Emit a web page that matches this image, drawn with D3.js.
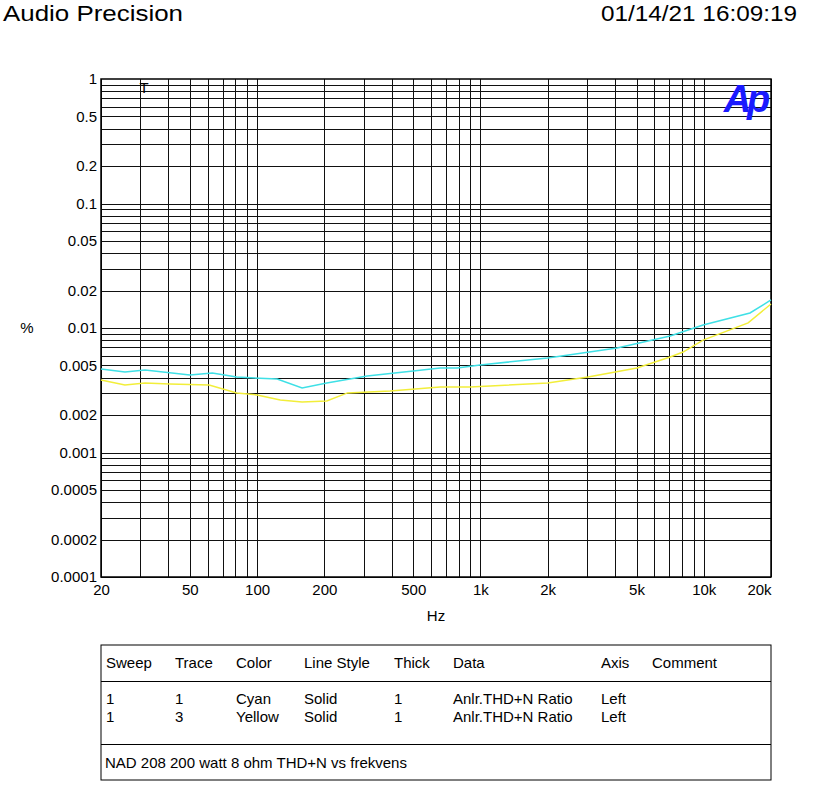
<!DOCTYPE html><html><head><meta charset="utf-8">
<script src="https://cdn.jsdelivr.net/npm/d3@7"></script>
<style>body{margin:0;background:#fff}text{font-family:"Liberation Sans",Arial,sans-serif}</style></head><body>
<svg id="c" width="824" height="792"></svg>
<script>
const cyanData=[[20,.00469],[25.6,.00443],[31.5,.0046],[50,.00419],[63,.00435],[81,.00404],[123,.00389],[159,.0033],[205,.00361],[311,.00411],[500,.00452],[660,.00477],[787,.00477],[996,.00505],[2000,.00574],[4090,.0069],[7070,.00863],[9930,.01057],[16100,.0132],[20000,.0168]];
const yellowData=[[20,.00382],[25.6,.00348],[31.5,.00361],[40.6,.00355],[61,.00348],[81,.00301],[100,.0029],[127,.00264],[159,.00255],[205,.00259],[254,.00301],[394,.00312],[660,.00336],[899,.00336],[2000,.00361],[3030,.00404],[5020,.00477],[7070,.00585],[8080,.00641],[9930,.008],[15800,.011],[20000,.0156]];
const xTicks=[20,50,100,200,500,1000,2000,5000,10000,20000];
const xTickLabels=["20","50","100","200","500","1k","2k","5k","10k","20k"];
const yTicks=[1,0.5,0.2,0.1,0.05,0.02,0.01,0.005,0.002,0.001,0.0005,0.0002,0.0001];
const yTickLabels=["1","0.5","0.2","0.1","0.05","0.02","0.01","0.005","0.002","0.001","0.0005","0.0002","0.0001"];
const legendHeader=["Sweep","Trace","Color","Line Style","Thick","Data","Axis","Comment"];
const legendRows=[["1","1","Cyan","Solid","1","Anlr.THD+N Ratio","Left",""],["1","3","Yellow","Solid","1","Anlr.THD+N Ratio","Left",""]];
const comment="NAD 208 200 watt 8 ohm THD+N vs frekvens";

const svg=d3.select("#c");
const L=101,R=771,T=79,B=577;
const x=d3.scaleLog().domain([20,20000]).range([L,R]);
const y=d3.scaleLog().domain([0.0001,1]).range([B,T]);
svg.append("text").attr("x",3).attr("y",21).attr("font-size",22).attr("textLength",180).attr("lengthAdjust","spacingAndGlyphs").text("Audio Precision");
svg.append("text").attr("x",601).attr("y",21).attr("font-size",22).attr("textLength",196).attr("lengthAdjust","spacingAndGlyphs").text("01/14/21 16:09:19");
const g=svg.append("g");
const xg=[];for(let d=10;d<=10000;d*=10)for(let m=1;m<=9;m++){const v=d*m;if(v>=20&&v<=20000)xg.push(v);}
const yg=[];for(let d=0.0001;d<0.99;d*=10)for(let m=1;m<=9;m++)yg.push(d*m);
g.selectAll(".vx").data(xg).join("line").attr("x1",d=>Math.round(x(d))+.5).attr("x2",d=>Math.round(x(d))+.5).attr("y1",T).attr("y2",B).attr("stroke","#111").attr("stroke-width",1);
g.selectAll(".hy").data(yg).join("line").attr("y1",d=>Math.round(y(d))+.5).attr("y2",d=>Math.round(y(d))+.5).attr("x1",L).attr("x2",R).attr("stroke","#111").attr("stroke-width",1);
g.append("rect").attr("x",L).attr("y",T).attr("width",R-L).attr("height",B-T).attr("fill","none").attr("stroke","#000").attr("stroke-width",1.5);
const ya=svg.append("g").attr("transform",`translate(${L},0)`).call(d3.axisLeft(y).tickValues(yTicks).tickFormat((d,i)=>yTickLabels[i]).tickSize(0).tickPadding(4));
ya.select(".domain").remove();ya.selectAll("text").attr("font-size",15).attr("font-family","Liberation Sans,Arial").attr("fill","#000");
const xa=svg.append("g").attr("transform",`translate(0,${B})`).call(d3.axisBottom(x).tickValues(xTicks).tickFormat((d,i)=>xTickLabels[i]).tickSize(0).tickPadding(7));
xa.select(".domain").remove();xa.selectAll("text").attr("font-size",15).attr("font-family","Liberation Sans,Arial").attr("fill","#000");
xa.selectAll("text").filter((d,i)=>i===xTicks.length-1).attr("dx",-12);
svg.append("text").attr("x",436).attr("y",621).attr("text-anchor","middle").attr("font-size",15).text("Hz");
svg.append("text").attr("x",27).attr("y",333).attr("text-anchor","middle").attr("font-size",15).text("%");
svg.append("text").attr("x",144).attr("y",93).attr("text-anchor","middle").attr("font-size",15).text("T");
svg.append("text").attr("x",745).attr("y",112).attr("text-anchor","middle").attr("font-size",38).attr("font-weight","bold").attr("font-style","italic").attr("fill","#1a1aff").attr("letter-spacing","-4").text("Ap");
const line=d3.line().x(d=>x(d[0])).y(d=>y(d[1]));
svg.append("path").datum(cyanData).attr("d",line).attr("fill","none").attr("stroke","#3fe0e6").attr("stroke-width",1.5);
svg.append("path").datum(yellowData).attr("d",line).attr("fill","none").attr("stroke","#f2ee3a").attr("stroke-width",1.5);
const lg=svg.append("g");
lg.append("rect").attr("x",101).attr("y",645).attr("width",670).attr("height",135).attr("fill","none").attr("stroke","#000");
lg.append("line").attr("x1",101).attr("x2",771).attr("y1",681.5).attr("y2",681.5).attr("stroke","#000");
lg.append("line").attr("x1",101).attr("x2",771).attr("y1",744.5).attr("y2",744.5).attr("stroke","#000");
const cols=[106,175,236,304,394,453,601,652];
lg.selectAll(".h").data(legendHeader).join("text").attr("x",(d,i)=>cols[i]).attr("y",668).attr("font-size",15).text(d=>d);
legendRows.forEach((r,ri)=>lg.selectAll(".r"+ri).data(r).join("text").attr("x",(d,i)=>cols[i]).attr("y",704+ri*18).attr("font-size",15).text(d=>d));
lg.append("text").attr("x",105).attr("y",768).attr("font-size",15).text(comment);
</script></body></html>
